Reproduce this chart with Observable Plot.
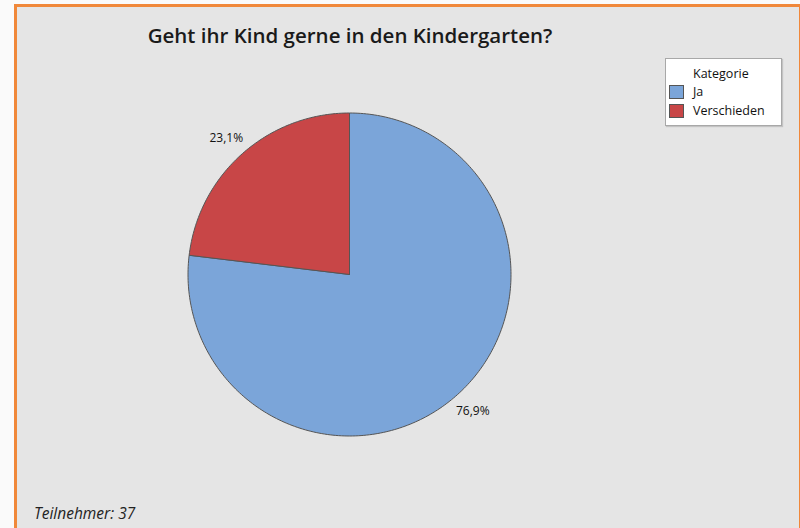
<!DOCTYPE html>
<html>
<head>
<meta charset="utf-8">
<script src="https://cdn.jsdelivr.net/npm/d3@7"></script>
<script src="https://cdn.jsdelivr.net/npm/@observablehq/plot@0.6"></script>
<style>
  html, body { margin: 0; padding: 0; background: #fafafa; }
  #wrap { position: relative; width: 800px; height: 528px; overflow: hidden; font-family: "Open Sans", sans-serif; }
  #panel { position: absolute; left: 14px; top: 4px; width: 786px; height: 528px; box-sizing: border-box;
           border-left: 3px solid #f0883a; border-top: 3px solid #f0883a; border-right: 1px solid #f0883a;
           background: #e5e5e5; }
  #chart { position: absolute; left: 0; top: 0; }
  #title { position: absolute; left: 0; width: 700px; top: 21px; text-align: center; font-size: 20.5px; font-weight: 600; color: #1a1a1a; }
  #legend { position: absolute; left: 665px; top: 58px; width: 117px; height: 68px; box-sizing: border-box;
            background: #ffffff; border: 1px solid #a8a8a8; box-shadow: 1px 1px 1px rgba(0,0,0,0.15); font-size: 12.5px; color: #111; }
  #legend .head { position: absolute; left: 27px; top: 6px; }
  #legend .item { position: absolute; left: 3px; height: 14px; line-height: 14px; }
  #legend .sw { display: inline-block; width: 13px; height: 12px; border: 1px solid #555; vertical-align: top; margin-right: 9px; }
  #caption { position: absolute; left: 34px; top: 502px; font-size: 15.5px; font-style: italic; color: #222; }
</style>
</head>
<body>
<div id="wrap">
  <div id="panel"></div>
  <div id="chart"></div>
  <div id="title">Geht ihr Kind gerne in den Kindergarten?</div>
  <div id="legend"></div>
  <div id="caption">Teilnehmer: 37</div>
</div>
<script>
const categories = ["Ja", "Verschieden"];
const values = [76.9, 23.1];
const labels = ["76,9%", "23,1%"];
const colors = ["#7ba5d9", "#c84647"];
const legendTitle = "Kategorie";

const data = categories.map((c, i) => ({category: c, value: values[i], label: labels[i]}));
const arcs = d3.pie().sort(null).value(d => d.value)(data);

// polygon vertices for each slice (angle clockwise from 12 o'clock)
const poly = [];
arcs.forEach(a => {
  const n = Math.max(2, Math.ceil((a.endAngle - a.startAngle) / (Math.PI / 180)));
  poly.push({category: a.data.category, x: 0, y: 0});
  for (let k = 0; k <= n; k++) {
    const t = a.startAngle + (a.endAngle - a.startAngle) * k / n;
    poly.push({category: a.data.category, x: Math.sin(t), y: Math.cos(t)});
  }
  poly.push({category: a.data.category, x: 0, y: 0});
});
const labelPts = arcs.map(a => {
  const m = (a.startAngle + a.endAngle) / 2;
  return {label: a.data.label, x: 1.15 * Math.sin(m), y: 1.13 * Math.cos(m)};
});

const cx = 349, cy = 274, r = 161.5;
const chart = Plot.plot({
  width: 800, height: 528,
  margin: 0,
  style: {background: "transparent", overflow: "visible"},
  x: {domain: [-1, 1], range: [cx - r, cx + r], axis: null},
  y: {domain: [-1, 1], range: [cy + r, cy - r], axis: null},
  color: {domain: categories, range: colors},
  marks: [
    Plot.line(poly, {x: "x", y: "y", z: "category", fill: "category", stroke: "#555", strokeWidth: 1, curve: "linear"}),
    Plot.text(labelPts, {x: "x", y: "y", text: "label", fontSize: 12, fill: "#111", fontFamily: "Open Sans, sans-serif"})
  ]
});
document.getElementById("chart").appendChild(chart);

const lg = document.getElementById("legend");
const head = document.createElement("div");
head.className = "head"; head.textContent = legendTitle; lg.appendChild(head);
categories.forEach((c, i) => {
  const it = document.createElement("div");
  it.className = "item"; it.style.top = (26 + i * 19) + "px";
  it.innerHTML = `<span class="sw" style="background:${colors[i]}"></span>${c}`;
  lg.appendChild(it);
});
</script>
</body>
</html>
